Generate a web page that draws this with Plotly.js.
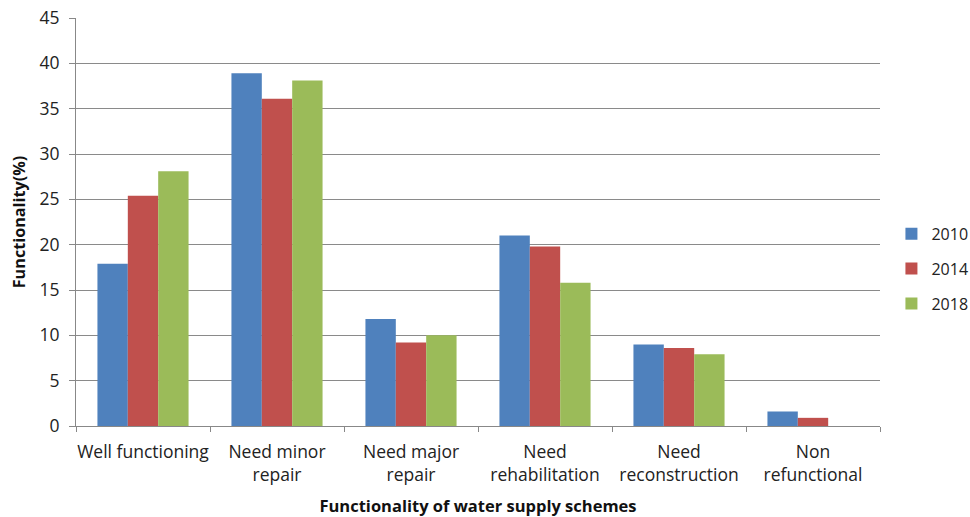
<!DOCTYPE html>
<html>
<head>
<meta charset="utf-8">
<script src="https://cdn.plot.ly/plotly-3.0.1.min.js"></script>
<style>html,body{margin:0;padding:0;background:#fff;}#chart{width:970px;height:517px;}</style>
</head>
<body>
<div id="chart"></div>
<script>
const categories = ["Well functioning", "Need minor<br>repair", "Need major<br>repair", "Need<br>rehabilitation", "Need<br>reconstruction", "Non<br>refunctional"];
const years = ["2010", "2014", "2018"];
const values2010 = [17.9, 38.9, 11.8, 21.0, 9.0, 1.6];
const values2014 = [25.4, 36.1, 9.2, 19.8, 8.6, 0.9];
const values2018 = [28.1, 38.1, 10.0, 15.8, 7.9, 0];
const yTicks = [0, 5, 10, 15, 20, 25, 30, 35, 40, 45];
const colors = ["#4F81BD", "#C0504D", "#9BBB59"];
const series = [values2010, values2014, values2018];

const traces = series.map((vals, i) => ({
  type: "bar",
  name: years[i],
  x: categories,
  y: vals,
  marker: {color: colors[i]},
  legendgroup: "g" + i,
  hoverinfo: "none"
}));

const fam = "Open Sans, sans-serif";
const layout = {
  width: 970, height: 517,
  margin: {l: 76, r: 90, t: 18, b: 91, autoexpand: false},
  paper_bgcolor: "#fff", plot_bgcolor: "#fff",
  font: {family: fam, size: 17, color: "#222"},
  barmode: "group", bargap: 0.32, bargroupgap: 0,
  showlegend: true,
  legend: {xref: "container", x: 0.919, xanchor: "left", y: 0.385, yanchor: "middle",
    font: {family: fam, size: 16, color: "#222"},
    tracegroupgap: 11, itemwidth: 30},
  xaxis: {
    tickson: "boundaries", ticks: "outside", ticklen: 5, tickcolor: "#888",
    tickangle: 0, automargin: false, ticklabelstandoff: 10,
    showline: true, linecolor: "#888", linewidth: 1,
    tickfont: {family: fam, size: 17.5, color: "#222"},
    title: {text: "<b>Functionality of water supply schemes</b>", font: {family: fam, size: 16.5, color: "#111"}, standoff: 18}
  },
  yaxis: {
    range: [0, 45], tickvals: yTicks, ticktext: yTicks.map(String),
    ticks: "outside", ticklen: 6, tickcolor: "#888", automargin: false, ticklabelstandoff: 6,
    showline: true, linecolor: "#888", linewidth: 1,
    showgrid: true, gridcolor: "#8a8a8a", gridwidth: 1, zeroline: false,
    tickfont: {family: fam, size: 17.5, color: "#222"},
    title: {text: "<b>Functionality(%)</b>", font: {family: fam, size: 16.2, color: "#111"}, standoff: 9}
  }
};
Plotly.newPlot("chart", traces, layout, {displayModeBar: false, staticPlot: true});
</script>
</body>
</html>
